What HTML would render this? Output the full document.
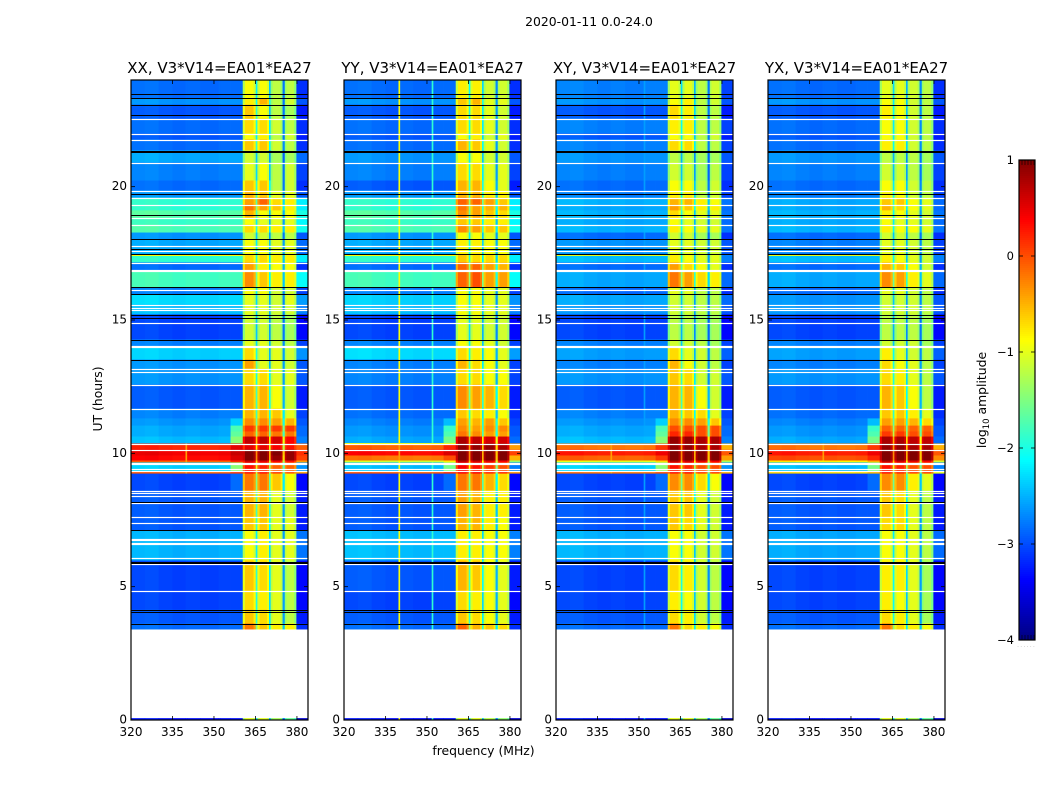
<!DOCTYPE html>
<html>
<head>
<meta charset="utf-8">
<title>2020-01-11 dynamic spectra</title>
<style>
html,body{margin:0;padding:0;background:#fff;width:1050px;height:800px;overflow:hidden}
svg{display:block}
text{font-family:"DejaVu Sans","Liberation Sans",sans-serif;fill:#000}
</style>
</head>
<body>
<svg id="figure" width="1050" height="800" viewBox="0 0 1050 800" xmlns="http://www.w3.org/2000/svg">
  <text x="589" y="26" font-size="12.4" text-anchor="middle">2020-01-11 0.0-24.0</text>
  <text x="0" y="0" font-size="12.4" text-anchor="middle" transform="translate(102,399) rotate(-90)">UT (hours)</text>
  <text x="483.500" y="755" font-size="12.4" text-anchor="middle">frequency (MHz)</text>
  <text x="0" y="0" font-size="12.4" text-anchor="middle" transform="translate(986,400) rotate(-90)">log<tspan font-size="8.500" dy="3">10</tspan><tspan dy="-3"> amplitude</tspan></text>
  <g id="panels"></g>
  <g id="colorbar"></g>
</svg>
<script>
// Time blocks (UT hours, top to bottom). Block i spans utEdges[i]..utEdges[i+1].
const utEdges = [24,23.31,23.08,22.56,22.0,21.78,21.36,20.91,20.23,19.86,19.59,19.33,19.11,18.84,18.58,18.28,18.02,17.46,17.16,16.86,16.22,15.96,15.58,15.21,14.27,14.01,13.52,13.18,12.58,11.68,11.31,11.04,10.82,10.63,10.37,10.14,9.92,9.73,9.66,9.30,9.24,8.61,7.63,7.11,5.98,4.86,4.14,3.62,3.41,0.07,0];

// Per-polarisation log10 amplitude of each block: background and the four bright sub-bands.
const xxBackground = [-2.85,-2.65,-2.95,-2.85,-2.95,-2.85,-2.55,-2.75,-2.85,-2.65,-1.9,-1.9,-1.7,-1.85,-1.75,-2.65,-2.55,-1.9,-2.85,-1.8,-2.75,-2.3,-2.45,-3.05,-2.75,-2.35,-2.65,-2.65,-2.95,-2.75,-2.65,-2.55,-2.55,-2.45,0.2,0.45,0.35,-0.1,-2.35,-0.1,-3.05,-2.95,-2.95,-2.5,-3.05,-3.05,-2.95,-2.85,null,-3.3];
const xxBand1 = [-0.9,-0.8,-0.6,-0.7,-0.9,-0.6,-1.1,-1.0,-0.6,-0.5,-0.4,-0.2,-0.5,-0.9,-0.7,-1.1,-0.9,-0.7,-0.4,-0.3,-0.9,-1.0,-1.0,-1.1,-1.0,-0.7,-0.4,-0.7,-0.5,-0.5,-0.3,0.1,-0.1,0.7,0.5,1,1,0.6,0.3,0.3,-0.2,-0.5,-0.6,-0.9,-0.6,-0.7,-0.6,-0.2,null,-1];
const xxBand2 = [-0.9,-0.5,-0.9,-0.7,-0.8,-0.6,-1.1,-0.9,-0.6,-0.6,-0.1,-0.4,-0.9,-1.0,-0.7,-1.1,-0.9,-0.7,-0.8,-0.6,-0.9,-1.0,-1.0,-1.1,-1.0,-1.0,-1.0,-0.7,-0.5,-0.5,-0.3,0.1,-0.1,0.7,0.5,1,1,0.5,0.2,0.3,-0.2,-0.5,-0.6,-0.8,-0.7,-0.8,-0.7,-0.6,null,-1];
const xxBand3 = [-1.2,-1.2,-1.2,-1.1,-1.2,-1.1,-1.3,-1.2,-1.2,-1.0,-0.7,-0.6,-0.9,-1.0,-0.8,-1.2,-1.0,-0.8,-0.9,-0.8,-1.1,-1.1,-1.1,-1.2,-1.1,-1.0,-1.0,-1.0,-0.9,-0.6,-0.4,0.1,-0.2,0.6,0.4,1,0.9,0.4,-0.1,0.1,-0.6,-1.0,-1.0,-1.0,-1.0,-1.0,-1.0,-0.8,null,-1.3];
const xxBand4 = [-1.2,-1.1,-1.3,-1.2,-1.1,-1.2,-1.3,-1.1,-1.1,-1.0,-0.8,-0.8,-0.9,-1.0,-0.8,-1.2,-1.0,-0.8,-0.9,-0.8,-1.1,-1.0,-1.1,-1.3,-1.2,-1.1,-1.1,-1.0,-1.1,-1.0,-0.5,0.1,-0.2,0.4,0.3,0.9,0.9,0.3,-0.1,0.0,-0.9,-1.1,-1.0,-1.0,-1.2,-1.2,-1.2,-0.8,null,-1.6];

const yyBackground = [-2.85,-2.65,-2.95,-2.85,-2.95,-2.85,-2.65,-2.75,-2.95,-2.65,-1.9,-1.9,-1.7,-1.85,-1.75,-2.65,-2.55,-1.9,-2.85,-1.8,-2.75,-2.35,-2.45,-3.05,-2.75,-2.3,-2.75,-2.75,-2.95,-2.85,-2.75,-2.65,-2.65,-2.55,-0.1,0.35,-0.2,-1.1,-2.45,-0.05,-3.05,-2.95,-2.95,-2.45,-2.95,-3.05,-2.95,-2.85,null,-3.3];
const yyBand1 = [-0.8,-0.6,-0.7,-0.7,-0.9,-0.5,-0.9,-0.7,-0.5,-0.5,-0.1,-0.2,-0.3,-0.6,-0.3,-0.9,-0.8,-0.6,-0.1,-0.1,-0.9,-0.9,-0.9,-1.0,-0.9,-0.7,-0.5,-0.7,-0.3,-0.6,-0.4,-0.3,-0.2,0.8,0.9,1,1,0.7,0.4,0.4,-0.2,-0.4,-0.5,-0.8,-0.5,-0.7,-0.6,-0.1,null,-1];
const yyBand2 = [-0.8,-0.5,-0.7,-0.7,-0.8,-0.6,-0.9,-0.7,-0.5,-0.5,-0.1,-0.4,-0.4,-0.6,-0.4,-0.9,-0.8,-0.7,-0.1,0.0,-0.9,-0.9,-0.9,-1.0,-0.9,-0.8,-0.7,-0.7,-0.4,-0.7,-0.5,-0.4,-0.3,0.7,0.9,1,1,0.6,0.3,0.4,-0.2,-0.5,-0.5,-0.8,-0.6,-0.8,-0.7,-0.5,null,-1];
const yyBand3 = [-1.1,-1.0,-1.0,-1.0,-1.1,-1.0,-1.1,-1.0,-0.9,-0.8,-0.4,-0.5,-0.6,-0.8,-0.6,-1.0,-0.9,-0.7,-0.4,-0.4,-1.0,-1.0,-1.0,-1.1,-1.0,-0.9,-0.9,-0.9,-0.5,-0.8,-0.4,-0.3,-0.4,0.6,0.9,1,1,0.5,0.1,0.2,-0.5,-0.8,-0.8,-0.9,-0.9,-0.9,-0.9,-0.6,null,-1.2];
const yyBand4 = [-1.1,-1.0,-1.1,-1.1,-1.0,-1.1,-1.1,-1.0,-1.0,-0.8,-0.6,-0.5,-0.7,-0.8,-0.6,-1.0,-0.9,-0.7,-0.5,-0.4,-1.0,-1.0,-1.0,-1.1,-1.1,-1.0,-1.0,-0.9,-0.7,-0.9,-0.6,-0.3,-0.4,0.6,0.8,1,1,0.4,0.0,0.2,-0.7,-0.8,-0.9,-0.9,-1.0,-1.0,-1.0,-0.7,null,-1.4];

const xyBackground = [-2.75,-2.65,-2.95,-2.75,-2.95,-2.75,-2.65,-2.75,-2.85,-2.75,-2.5,-2.55,-2.5,-2.55,-2.5,-2.85,-2.65,-2.45,-2.85,-2.55,-2.85,-2.55,-2.65,-3.05,-2.75,-2.6,-2.75,-2.65,-2.95,-2.75,-2.65,-2.55,-2.55,-2.45,-0.2,0.25,-0.1,-1.0,-2.35,-0.2,-3.05,-2.95,-2.95,-2.5,-3.05,-3.05,-2.95,-2.85,null,-3.3];
const xyBand1 = [-1.0,-0.9,-0.7,-0.8,-0.9,-0.7,-1.2,-1.1,-0.9,-0.8,-0.5,-0.4,-0.7,-0.9,-0.8,-1.1,-1.0,-0.8,-0.4,-0.2,-1.0,-1.1,-1.1,-1.2,-1.1,-0.7,-0.5,-0.6,-0.5,-0.5,-0.3,0.0,0.2,0.9,0.9,1,1,0.7,0.3,0.3,-0.3,-0.6,-0.6,-0.9,-0.7,-0.8,-0.7,-0.2,null,-1];
const xyBand2 = [-1.0,-0.8,-0.8,-0.8,-0.9,-0.7,-1.2,-1.1,-0.9,-0.8,-0.5,-0.6,-0.9,-1.0,-0.9,-1.1,-1.0,-0.9,-0.7,-0.4,-1.0,-1.1,-1.1,-1.2,-1.1,-1.0,-0.9,-0.7,-0.5,-0.6,-0.3,0.0,0.2,0.9,0.9,1,1,0.6,0.2,0.3,-0.3,-0.6,-0.7,-0.9,-0.8,-0.9,-0.8,-0.7,null,-1];
const xyBand3 = [-1.2,-1.2,-1.2,-1.2,-1.2,-1.2,-1.3,-1.3,-1.2,-1.2,-0.8,-0.8,-1.0,-1.1,-1.0,-1.3,-1.1,-1.0,-0.9,-0.7,-1.2,-1.2,-1.2,-1.3,-1.2,-1.1,-1.1,-1.1,-0.9,-0.7,-0.4,0.0,0.0,0.8,0.8,1,1,0.5,0.0,0.1,-0.7,-1.0,-1.0,-1.1,-1.1,-1.1,-1.1,-0.8,null,-1.3];
const xyBand4 = [-1.1,-1.1,-1.2,-1.2,-1.1,-1.2,-1.3,-1.2,-1.1,-1.1,-0.9,-0.8,-1.0,-1.1,-1.0,-1.3,-1.1,-1.0,-1.0,-0.8,-1.2,-1.2,-1.2,-1.3,-1.3,-1.2,-1.2,-1.1,-1.1,-1.0,-0.6,0.0,0.0,0.8,0.8,1,1,0.4,0.0,0.1,-0.9,-1.1,-1.1,-1.1,-1.2,-1.2,-1.2,-0.9,null,-1.6];

const yxBackground = [-2.85,-2.65,-2.95,-2.85,-2.95,-2.85,-2.65,-2.75,-2.85,-2.75,-2.55,-2.55,-2.5,-2.55,-2.5,-2.85,-2.75,-2.45,-2.85,-2.55,-2.85,-2.65,-2.65,-3.05,-2.75,-2.6,-2.75,-2.65,-2.95,-2.85,-2.75,-2.65,-2.65,-2.55,-0.2,0.25,0.0,-0.8,-2.45,-0.7,-3.05,-2.95,-2.95,-2.55,-3.05,-3.05,-2.95,-2.85,null,-3.3];
const yxBand1 = [-1.0,-0.9,-0.8,-0.9,-0.9,-0.8,-1.2,-1.1,-0.9,-0.8,-0.6,-0.5,-0.8,-0.9,-0.8,-1.1,-1.0,-0.8,-0.5,-0.3,-1.0,-1.1,-1.1,-1.2,-1.1,-0.8,-0.7,-0.7,-0.5,-0.6,-0.4,-0.1,0.1,0.8,0.9,1,1,0.7,0.3,0.3,-0.3,-0.6,-0.7,-0.9,-0.8,-0.8,-0.7,-0.2,null,-1];
const yxBand2 = [-1.0,-0.9,-0.9,-0.9,-0.9,-0.8,-1.2,-1.1,-0.9,-0.9,-0.6,-0.7,-0.9,-1.0,-0.9,-1.1,-1.0,-0.9,-0.6,-0.4,-1.0,-1.1,-1.1,-1.2,-1.1,-1.0,-0.9,-0.8,-0.6,-0.6,-0.4,-0.1,0.1,0.8,0.9,1,1,0.6,0.2,0.2,-0.3,-0.7,-0.7,-0.9,-0.8,-0.9,-0.8,-0.7,null,-1];
const yxBand3 = [-1.1,-1.1,-1.1,-1.1,-1.1,-1.1,-1.2,-1.2,-1.1,-1.1,-0.9,-0.9,-1.0,-1.0,-0.9,-1.2,-1.1,-1.0,-0.9,-0.8,-1.1,-1.1,-1.1,-1.2,-1.1,-1.1,-1.0,-1.0,-0.9,-0.8,-0.5,-0.1,0.0,0.7,0.8,1,1,0.5,0.0,0.1,-0.8,-1.0,-1.0,-1.0,-1.0,-1.0,-1.0,-0.8,null,-1.3];
const yxBand4 = [-1.2,-1.2,-1.2,-1.2,-1.2,-1.2,-1.3,-1.3,-1.2,-1.2,-1.0,-1.0,-1.1,-1.1,-1.0,-1.3,-1.2,-1.1,-1.1,-1.0,-1.2,-1.2,-1.2,-1.3,-1.3,-1.2,-1.2,-1.2,-1.2,-1.0,-0.7,-0.1,0.0,0.7,0.8,1,1,0.4,0.0,0.1,-1.0,-1.2,-1.2,-1.2,-1.3,-1.3,-1.3,-0.9,null,-1.6];

// Extra level of the 356-360.4 MHz shoulder, per block.
const shoulderBoost = [0,0,0,0,0,0,0,0,0,0,0,0,0,0,0,0,0,0,0,0,0,0,0,0,0,0,0,0,0,0,0.3,0.8,0.9,1,0.3,0.2,0.2,0.3,0.9,0.2,0.2,0,0,0,0,0,0,0,0,0];

// Frequency channels: edges in MHz, which level each channel reads, and its offset from that level.
const channelEdges = [320,325,330,335,339.7,340.3,345,351.7,352.3,356,360.4,361.2,364.3,365.1,365.7,366.5,369.2,369.9,370.5,371.2,374.1,374.8,375.6,376.2,379,379.8,384];
const channelSource = ['bg','bg','bg','bg','hot340','bg','bg','hot352','bg','sh','b1','b1','b1','b1','b2','b2','b2','b2','b3','b3','b3','b3','b4','b4','b4','bg'];
const channelOffset = [0.03,0.05,0,-0.03,0,0,-0.03,0,0,0,-0.35,0,-0.2,-1.3,-0.25,0,-0.2,-1.5,-0.2,0,-0.2,-1.6,-0.2,0,-0.25,-0.3];

// Floor level of the two narrow interference channels, one per panel.
const hot340Level = [-4,-0.9,-4,-4];
const hot352Level = [-4,-1.9,-2.6,-4];

// Narrow bright rows across the background, one list per panel: UT hours and level.
const xxHotRows = [[17.42,-0.9]];
const yyHotRows = [[10.4,-1.0],[17.42,-0.9]];
const xyHotRows = [[17.42,-1.0]];
const yxHotRows = [[17.42,-1.0]];

// Flagged integrations, UT hours.
const whiteFlags = [22.55,21.98,21.76,20.90,19.85,19.59,19.33,18.82,18.57,17.77,17.57,17.13,16.87,16.83,16.11,15.57,15.46,15.38,14.87,14.03,13.99,13.17,13.06,12.57,11.67,10.34,10.14,9.65,9.61,9.42,9.33,8.58,8.51,8.41,8.12,7.61,7.40,6.80,6.76,6.63,6.59,6.06,5.86,4.85];
const blackFlags = [23.47,23.33,23.08,22.70,21.35,21.31,19.72,18.95,18.02,17.67,17.47,16.22,15.98,15.20,15.09,14.26,13.51,8.19,7.13,5.92,5.88,4.14,4.05,3.59];

const panelNames = ['XX','YY','XY','YX'];
const panelTitles = ['XX, V3*V14=EA01*EA27','YY, V3*V14=EA01*EA27','XY, V3*V14=EA01*EA27','YX, V3*V14=EA01*EA27'];
const xTicks = [320,335,350,365,380];
const yTicks = [0,5,10,15,20];
const colorTicks = [1,0,-1,-2,-3,-4];
const colorTickLabels = ['1','0','\u22121','\u22122','\u22123','\u22124'];

const panelLevels = [
  {bg:xxBackground,b1:xxBand1,b2:xxBand2,b3:xxBand3,b4:xxBand4},
  {bg:yyBackground,b1:yyBand1,b2:yyBand2,b3:yyBand3,b4:yyBand4},
  {bg:xyBackground,b1:xyBand1,b2:xyBand2,b3:xyBand3,b4:xyBand4},
  {bg:yxBackground,b1:yxBand1,b2:yxBand2,b3:yxBand3,b4:yxBand4}
];
const panelHotRows = [xxHotRows,yyHotRows,xyHotRows,yxHotRows];

const NS = 'http://www.w3.org/2000/svg';
const panelLeft = [131,344,556,768];
const panelWidth = 177;
const plotTop = 80, plotBottom = 720;
const xScale = (p, f) => panelLeft[p] + (f - 320) * panelWidth / 64;
const yScale = ut => plotBottom - ut * (plotBottom - plotTop) / 24;

function make(tag, attrs, parent) {
  const el = document.createElementNS(NS, tag);
  for (const k in attrs) el.setAttribute(k, attrs[k]);
  parent.appendChild(el);
  return el;
}
function jetChannel(t) { return Math.max(0, Math.min(1, t)); }
function jet(v) {
  const t = Math.max(0, Math.min(1, (v + 4) / 5));
  const r = jetChannel(1.5 - Math.abs(4 * t - 3));
  const g = jetChannel(1.5 - Math.abs(4 * t - 2));
  const b = jetChannel(1.5 - Math.abs(4 * t - 1));
  return 'rgb(' + Math.round(r * 255) + ',' + Math.round(g * 255) + ',' + Math.round(b * 255) + ')';
}
function channelValue(p, c, i) {
  const lv = panelLevels[p];
  const src = channelSource[c];
  if (src === 'hot340') return Math.max(lv.bg[i] > -0.7 ? -0.4 : lv.bg[i], hot340Level[p]);
  if (src === 'hot352') return Math.max(lv.bg[i], hot352Level[p]);
  if (src === 'sh') return lv.bg[i] + shoulderBoost[i];
  return lv[src][i] + channelOffset[c];
}

const panels = document.getElementById('panels');
panelNames.forEach((name, p) => {
  const g = make('g', {}, panels);
  
  

  for (let i = 0; i < utEdges.length - 1; i++) {
    if (panelLevels[p].bg[i] === null) continue;
    const y0 = yScale(utEdges[i]), y1 = yScale(utEdges[i + 1]);
    for (let c = 0; c < channelSource.length; c++) {
      const x0 = xScale(p, channelEdges[c]), x1 = xScale(p, channelEdges[c + 1]);
      const cell = make('rect', {x: x0, y: y0, width: x1 - x0 + 0.4, height: y1 - y0 + 0.4, fill: jet(channelValue(p, c, i))}, g);
      
      
    }
  }

  panelHotRows[p].forEach(row => {
    const x0 = xScale(p, 320), x1 = xScale(p, 360.4);
    const hot = make('rect', {x: x0, y: Math.round(yScale(row[0])), width: x1 - x0, height: 1, fill: jet(row[1])}, g);
    
    
  });

  whiteFlags.forEach(ut => {
    const line = make('rect', {x: panelLeft[p], y: Math.round(yScale(ut)) - 0.1, width: panelWidth, height: 1.2, fill: '#fff'}, g);
    
    
  });
  blackFlags.forEach(ut => {
    const line = make('rect', {x: panelLeft[p], y: Math.round(yScale(ut)), width: panelWidth, height: 1, fill: '#000'}, g);
    
    
  });

  const frame = make('rect', {x: panelLeft[p], y: plotTop, width: panelWidth, height: plotBottom - plotTop, fill: 'none', stroke: '#000', 'stroke-width': 1.2}, g);
  
  

  xTicks.forEach(f => {
    const x = xScale(p, f);
    const t1 = make('line', {x1: x, x2: x, y1: plotBottom, y2: plotBottom - 4, stroke: '#000', 'stroke-width': 0.8}, g);
    
    
    const t2 = make('line', {x1: x, x2: x, y1: plotTop, y2: plotTop + 4, stroke: '#000', 'stroke-width': 0.8}, g);
    
    
    const label = make('text', {x: x, y: 736, 'font-size': 12, 'text-anchor': 'middle'}, g);
    
    
    label.textContent = f;
  });
  yTicks.forEach(ut => {
    const y = yScale(ut);
    const t1 = make('line', {x1: panelLeft[p], x2: panelLeft[p] + 4, y1: y, y2: y, stroke: '#000', 'stroke-width': 0.8}, g);
    
    
    const t2 = make('line', {x1: panelLeft[p] + panelWidth, x2: panelLeft[p] + panelWidth - 4, y1: y, y2: y, stroke: '#000', 'stroke-width': 0.8}, g);
    
    
    const label = make('text', {x: panelLeft[p] - 4, y: y + 3.5, 'font-size': 12, 'text-anchor': 'end'}, g);
    
    
    label.textContent = ut;
  });

  const title = make('text', {x: panelLeft[p] + panelWidth / 2, y: 73, 'font-size': 15, 'text-anchor': 'middle'}, g);
  
  
  title.textContent = panelTitles[p];
});

// Colorbar
const bar = document.getElementById('colorbar');
const barLeft = 1019, barWidth = 16, barTop = 160, barBottom = 640;
const cScale = v => barBottom - (v + 4) * (barBottom - barTop) / 5;
for (let y = barTop; y < barBottom; y += 2) {
  const v = -4 + (barBottom - y - 1) * 5 / (barBottom - barTop);
  const swatch = make('rect', {x: barLeft, y: y, width: barWidth, height: 2.3, fill: jet(v)}, bar);
  
  
}
const barFrame = make('rect', {x: barLeft, y: barTop, width: barWidth, height: barBottom - barTop, fill: 'none', stroke: '#000', 'stroke-width': 1.2}, bar);


colorTicks.forEach((v, i) => {
  const y = cScale(v);
  const t1 = make('line', {x1: barLeft, x2: barLeft + 4, y1: y, y2: y, stroke: '#000', 'stroke-width': 0.8}, bar);
  
  
  const t2 = make('line', {x1: barLeft + barWidth, x2: barLeft + barWidth - 4, y1: y, y2: y, stroke: '#000', 'stroke-width': 0.8}, bar);
  
  
  const label = make('text', {x: barLeft - 5, y: y + 4, 'font-size': 11.5, 'text-anchor': 'end'}, bar);
  
  
  label.textContent = colorTickLabels[i];
});
[3, 6, 9, 12, 15].forEach(dx => {
  const topMinor = make('line', {x1: barLeft + dx, x2: barLeft + dx, y1: barTop, y2: barTop + 5, stroke: '#000', 'stroke-width': 0.6}, bar);
  
  
  const bottomMinor = make('line', {x1: barLeft + dx, x2: barLeft + dx, y1: barBottom, y2: barBottom - 5, stroke: '#000', 'stroke-width': 0.6}, bar);
  
  
});
const dots = make('text', {x: barLeft + 7, y: 647, 'font-size': 5, 'text-anchor': 'middle', style: 'fill:#999'}, bar);


dots.textContent = '. . . . . .';
</script>
</body>
</html>
